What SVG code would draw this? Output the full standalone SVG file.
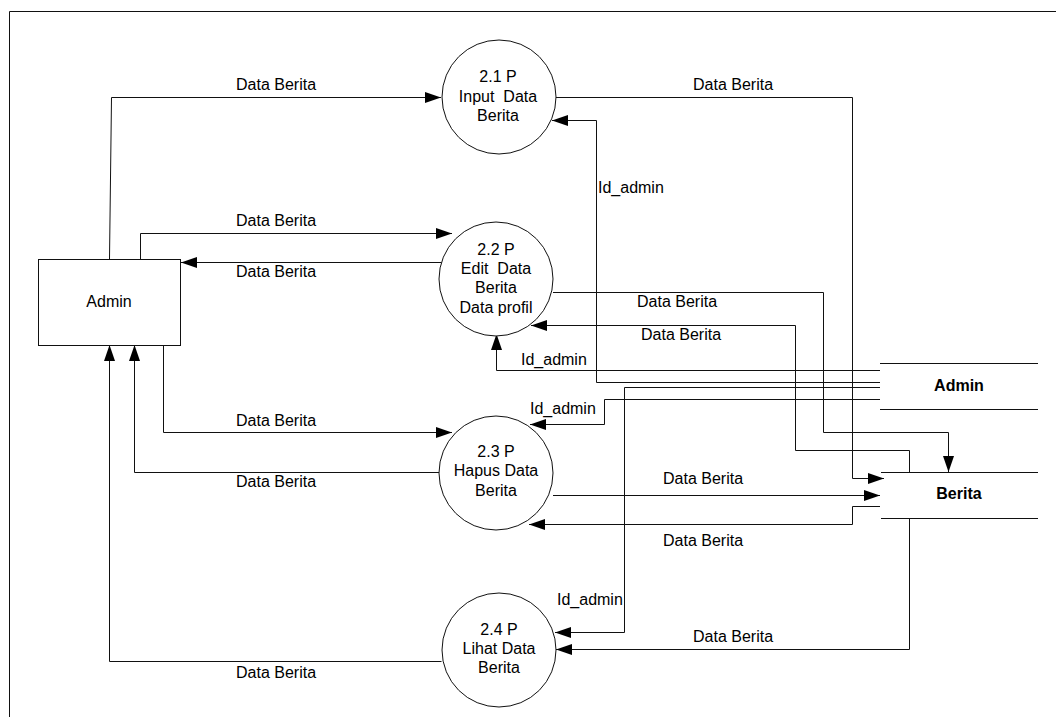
<svg xmlns="http://www.w3.org/2000/svg" width="1056" height="717" viewBox="0 0 1056 717">
<style>
text{font-family:"Liberation Sans",Arial,sans-serif;font-size:16px;fill:#000}
.c{text-anchor:middle}
.b{font-weight:bold}
.ln{fill:none;stroke:#111;stroke-width:1}
.ar{fill:none;stroke:#111;stroke-width:1;marker-end:url(#ah)}
.proc{fill:#fff;stroke:#111;stroke-width:1}
</style>
<defs>
<marker id="ah" viewBox="0 0 16 11" refX="16" refY="5.5" markerWidth="16" markerHeight="11" markerUnits="userSpaceOnUse" orient="auto">
<path d="M0,0 L16,5.5 L0,11 Z" fill="#000"/>
</marker>
</defs>
<rect width="1056" height="717" fill="#fff"/>
<g id="frame">
<path class="ln" d="M9.5,717 V11.5 H1056"/>
</g>
<g id="connectors">
<path class="ar" d="M109.5,259 L111.5,97.5 H441"/>
<path class="ar" d="M556,97.5 H852.5 V478.5 H884"/>
<path class="ar" d="M880,382.5 H596.5 V120.5 H552"/>
<path class="ar" d="M140.5,259 V233.5 H452"/>
<path class="ar" d="M451,262.5 H181"/>
<path class="ar" d="M553,292.5 H823.5 V432.5 H948.5 V472"/>
<path class="ar" d="M909.5,472 V450.5 H795.5 V325.5 H531"/>
<path class="ar" d="M880,370.5 H496.5 V334"/>
<path class="ar" d="M880,387.5 H624.5 V632.5 H555"/>
<path class="ar" d="M880,399.5 H604.5 V424.5 H530"/>
<path class="ar" d="M163.5,345 V432.5 H452"/>
<path class="ar" d="M445,472.5 H134.5 V345"/>
<path class="ar" d="M553,495.5 H880"/>
<path class="ar" d="M880,506.5 H852.5 V524.5 H529"/>
<path class="ar" d="M909.5,518 V649.5 H556"/>
<path class="ar" d="M441.5,661.5 H109.5 V345"/>
</g>
<g id="labels">
<text x="236" y="90">Data Berita</text>
<text x="693" y="90">Data Berita</text>
<text x="598" y="193">Id_admin</text>
<text x="236" y="226">Data Berita</text>
<text x="236" y="277">Data Berita</text>
<text x="637" y="307">Data Berita</text>
<text x="641" y="340">Data Berita</text>
<text x="521" y="365">Id_admin</text>
<text x="530" y="414">Id_admin</text>
<text x="236" y="426">Data Berita</text>
<text x="663" y="484">Data Berita</text>
<text x="236" y="487">Data Berita</text>
<text x="663" y="546">Data Berita</text>
<text x="557" y="605">Id_admin</text>
<text x="693" y="642">Data Berita</text>
<text x="236" y="678">Data Berita</text>
</g>
<g id="admin-entity">
<rect class="proc" x="38.5" y="259.5" width="142" height="86"/>
<text class="c" x="109" y="307">Admin</text>
</g>
<g id="p21">
<circle class="proc" cx="499" cy="97" r="57"/>
<text class="c" x="498" y="82">2.1 P</text>
<text class="c" x="498" y="102" xml:space="preserve">Input  Data</text>
<text class="c" x="498" y="121">Berita</text>
</g>
<g id="p22">
<circle class="proc" cx="496" cy="279" r="57"/>
<text class="c" x="496" y="255">2.2 P</text>
<text class="c" x="496" y="274" xml:space="preserve">Edit  Data</text>
<text class="c" x="496" y="293">Berita</text>
<text class="c" x="496" y="313">Data profil</text>
</g>
<g id="p23">
<circle class="proc" cx="496" cy="473" r="57"/>
<text class="c" x="496" y="457">2.3 P</text>
<text class="c" x="496" y="476">Hapus Data</text>
<text class="c" x="496" y="496">Berita</text>
</g>
<g id="p24">
<circle class="proc" cx="499" cy="650" r="57"/>
<text class="c" x="499" y="635">2.4 P</text>
<text class="c" x="499" y="654">Lihat Data</text>
<text class="c" x="499" y="673">Berita</text>
</g>
<g id="store-admin">
<path class="ln" d="M880,363.5 H1038 M880,409.5 H1038"/>
<text class="c b" x="959" y="391">Admin</text>
</g>
<g id="store-berita">
<path class="ln" d="M881,472.5 H1038 M881,518.5 H1038"/>
<text class="c b" x="959" y="499">Berita</text>
</g>
</svg>
